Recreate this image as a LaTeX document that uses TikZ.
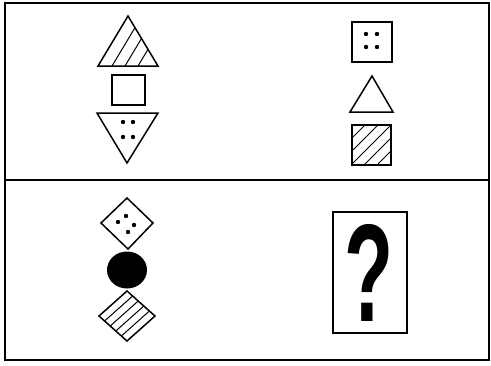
\documentclass[tikz,border=0pt]{standalone}
\usepackage{fontspec}
\usepackage{graphicx}
\newfontfamily\qfont{Liberation Sans}
\usetikzlibrary{positioning}

\begin{document}
\begin{tikzpicture}[x=1pt,y=-1pt,
  shp/.style={draw,line width=1.5pt,line join=miter},
  hatch/.style={line width=1pt},
  pip/.style={fill=black}
]
\useasboundingbox (0,0) rectangle (491,365);

% frame and divider
\draw[line width=1.6pt] (5,3) rectangle (489,360);
\draw[line width=1.6pt] (5,180) -- (489,180);

% upper left: hatched triangle, square, dotted triangle
\begin{scope}
  \clip (128,16) -- (158,66) -- (98,66) -- cycle;
  \foreach \x in {112,125,138}
    \draw[hatch] (\x,66) -- ++(36,-60);
\end{scope}
\draw[shp] (128,16) -- (158,66) -- (98,66) -- cycle;
\draw[shp] (112,75) rectangle (145,105);
\draw[shp] (97,113) -- (158,113) -- (127,163) -- cycle;
\foreach \p in {(123,122),(133,122),(123,137),(133,137)}
  \fill[pip] \p circle (2.2);

% upper right: dotted square, triangle, hatched square
\draw[shp] (352,22) rectangle (392,62);
\foreach \p in {(366,34),(377,34),(366,47),(377,47)}
  \fill[pip] \p circle (2.2);
\draw[shp] (372,76) -- (393,112) -- (350,112) -- cycle;
\begin{scope}
  \clip (352,125) rectangle (391,165);
  \foreach \c in {490,503,516,529,542}
    \draw[hatch] (\c-165,165) -- (\c-125,125);
\end{scope}
\draw[shp] (352,125) rectangle (391,165);

% lower left: dotted diamond, black disc, striped diamond
\draw[shp] (101,223) -- (127,198) -- (153,223) -- (128,249) -- cycle;
\foreach \p in {(126,216),(118,222),(134,225),(128,232)}
  \fill[pip] \p circle (2.2);
\fill (127,270) ellipse [x radius=20, y radius=18.5];
\begin{scope}
  \clip (99,316) -- (127,291) -- (155,316) -- (127,341) -- cycle;
  \foreach \k in {1,...,4}
    \draw[hatch] (99+5.6*\k,316+5*\k) -- ++(28,-25);
\end{scope}
\draw[shp] (99,316) -- (127,291) -- (155,316) -- (127,341) -- cycle;

% lower right: the unknown
\draw[shp] (333,212) rectangle (407,333);
\node[inner sep=0pt] (qmark) at (369,273) {\resizebox{49pt}{97pt}{\qfont\bfseries ?}};
\end{tikzpicture}
\end{document}
